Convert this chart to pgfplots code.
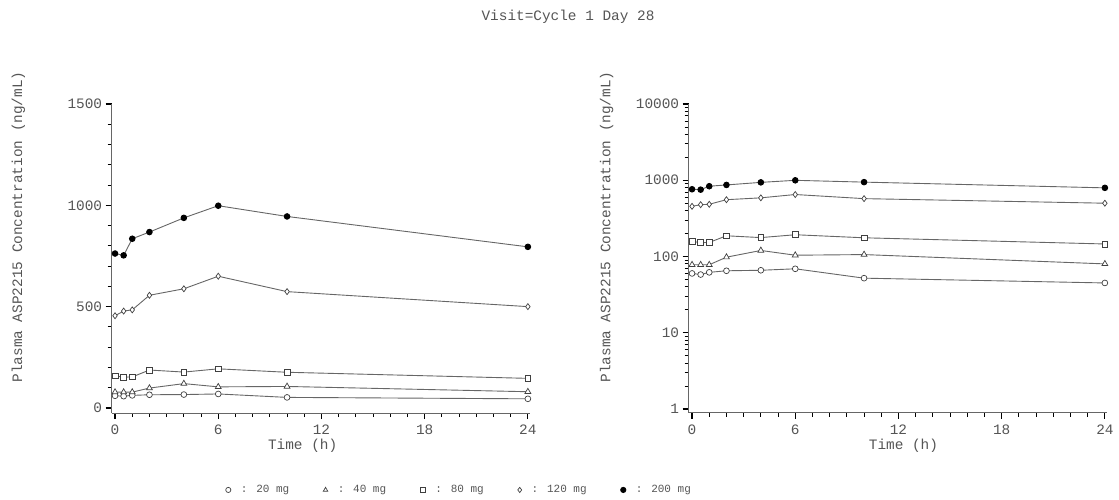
\documentclass[border=0pt]{standalone}
\usepackage{fontspec}
\setmainfont{Liberation Mono}
\usepackage{pgfplots}
\pgfplotsset{compat=1.18}
\usepackage{pgfplotstable}

\definecolor{ctext}{HTML}{555555}
\definecolor{cline}{HTML}{666666}
\definecolor{cmark}{HTML}{404040}
\newcommand\tk{\fontsize{14.4bp}{17bp}\selectfont}
\newcommand\lgd{\fontsize{11bp}{13bp}\selectfont}

% Cycle 1 Day 28, mean concentration by dose
\pgfplotstableread{
t    d20 d40 d80 d120 d200
0    60  78  158 455  762
0.5  58  78  152 478  753
1    62  78  153 484  835
2    65  98  187 556  868
4    66  120 177 588  938
6    69  104 193 650  998
10   52  106 176 574  945
24   45  80  146 500  795
}\pk

\pgfplotsset{
  pkax/.style={
    scale only axis, width=418bp, height=309bp,
    xmin=-0.2, xmax=24.1,
    axis x line=bottom, axis y line=left,
    axis line style={cline, line width=1bp, -},
    xtick align=outside, ytick align=outside,
    major tick length=6bp, minor tick length=4bp,
    every tick/.append style={black, line width=1.2bp},
    every minor tick/.append style={black, line width=0.8bp},
    xtick={0,6,12,18,24},
    minor xtick={1,2,3,4,5,7,8,9,10,11,13,14,15,16,17,19,20,21,22,23},
    /pgf/number format/assume math mode=true,
    /pgf/number format/1000 sep={},
    tick label style={font=\tk, text=ctext},
    xticklabel style={yshift=-2bp},
    label style={font=\tk, text=ctext},
    xlabel={Time (h)},
    ylabel={Plasma ASP2215 Concentration (ng/mL)},
    ylabel style={anchor=center},
    xlabel style={anchor=center},
    clip=false,
  },
  ln/.style={cline, line width=0.9bp},
  s20/.style={ln, mark=*, mark size=2.9bp, mark options={draw=cmark, fill=white, line width=0.7bp}},
  s40/.style={ln, mark=triangle*, mark size=3.4bp, mark options={draw=cmark, fill=white, line width=0.7bp}},
  s80/.style={ln, mark=square*, mark size=2.9bp, mark options={draw=cmark, fill=white, line width=0.7bp}},
  s120/.style={ln, mark=diamond*, mark size=3.0bp, mark options={draw=cmark, fill=white, line width=0.7bp}},
  s200/.style={ln, mark=*, mark size=2.8bp, mark options={draw=black, fill=black}},
}

\begin{document}
\begin{tikzpicture}
\path[use as bounding box] (0,0) rectangle (1119bp,500bp);
\node[font=\tk, text=ctext] at (568bp,483bp) {Visit=Cycle 1 Day 28};

\begin{axis}[pkax, at={(111.6bp,87bp)}, anchor=south west,
    ymin=-25, ymax=1500,
    ytick={0,500,1000,1500},
    minor ytick={100,200,300,400,600,700,800,900,1100,1200,1300,1400},
    ylabel style={at={(axis description cs:-0.223,0.602)}},
    xlabel style={at={(axis description cs:0.457,-0.107)}},
    legend columns=5,
    legend image code/.code={\draw[#1, draw=none, mark size=2.6bp] plot coordinates {(0bp,0bp)};},
    legend style={at={(axis description cs:0.2725,-0.249)}, anchor=west,
      draw=none, fill=none, font=\lgd, text=ctext, inner sep=0pt,
      /tikz/every odd column/.append style={column sep=8bp},
      /tikz/every even column/.append style={column sep=32bp}},
]
\addplot[s20]  table[x=t, y=d20]  {\pk};
\addlegendentry{: 20 mg}
\addplot[s40]  table[x=t, y=d40]  {\pk};
\addlegendentry{: 40 mg}
\addplot[s80]  table[x=t, y=d80]  {\pk};
\addlegendentry{: 80 mg}
\addplot[s120] table[x=t, y=d120] {\pk};
\addlegendentry{: 120 mg}
\addplot[s200] table[x=t, y=d200] {\pk};
\addlegendentry{: 200 mg}
\end{axis}

\begin{axis}[pkax, at={(688.6bp,87bp)}, anchor=south west,
    ymode=log, ymin=0.887, ymax=10000,
    ytick={1,10,100,1000,10000}, yticklabels={1,10,100,1000,10000},
    minor ytick={2,3,4,5,6,7,8,9,20,30,40,50,60,70,80,90,200,300,400,500,600,700,800,900,2000,3000,4000,5000,6000,7000,8000,9000},
    ylabel style={at={(axis description cs:-0.196,0.602)}},
    xlabel style={at={(axis description cs:0.514,-0.107)}},
]
\addplot[s20]  table[x=t, y=d20]  {\pk};
\addplot[s40]  table[x=t, y=d40]  {\pk};
\addplot[s80]  table[x=t, y=d80]  {\pk};
\addplot[s120] table[x=t, y=d120] {\pk};
\addplot[s200] table[x=t, y=d200] {\pk};
\end{axis}
\end{tikzpicture}
\end{document}
